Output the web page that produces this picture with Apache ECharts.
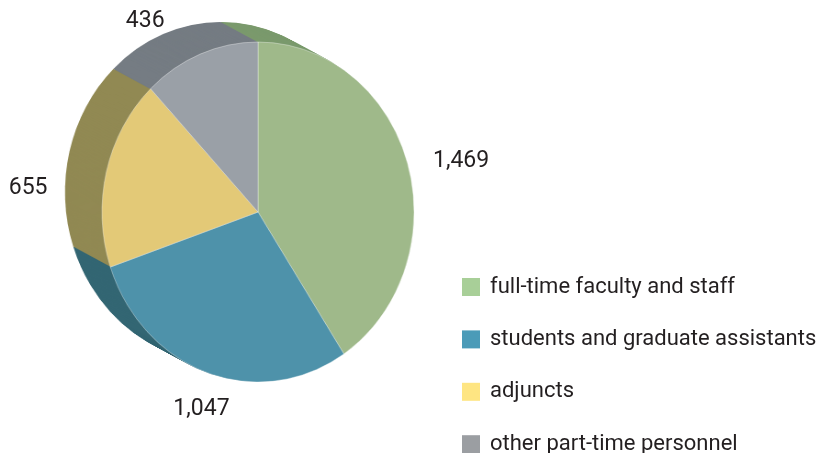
<!DOCTYPE html>
<html><head><meta charset="utf-8">
<script src="https://cdn.jsdelivr.net/npm/echarts@6/dist/echarts.min.js"></script>
<style>
html,body{margin:0;padding:0;background:#fff;overflow:hidden;}
#wrap{position:relative;width:834px;height:453px;overflow:hidden;}
#pie{position:absolute;left:0;top:0;width:834px;height:453px;transform:scaleX(0.918);transform-origin:258px 212px;}
#main{position:absolute;left:0;top:0;width:834px;height:520px;}
</style></head><body>
<div id="wrap"><div id="pie"></div><div id="main"></div></div>
<script>
// ---- data ----
const categories = ['full-time faculty and staff', 'students and graduate assistants', 'adjuncts', 'other part-time personnel'];
const values = [1469, 1047, 655, 436];

// ---- styles ----
const faceColors = ['#9fb98a', '#4e92aa', '#e3c977', '#9aa0a7'];
const sideColors = ['#7b9a6d', '#336673', '#918953', '#757c83'];
const legendColors = ['#a8cf98', '#4b9bb8', '#fee582', '#9b9ea2'];
const labelNudge = [[-12, 4], [38, 17], [-21, 22], [-18, -14]];
const FONT = 'Roboto';
const TEXT = '#231f20';
const FRONT = [258, 212], BACK = [217.7, 192], R = 170, LAYERS = 40;

function pieData(colors) {
  return categories.map((c, k) => ({ name: c, value: values[k], itemStyle: { color: colors[k] } }));
}

const pieChart = echarts.init(document.getElementById('pie'), null, { renderer: 'canvas' });
const layers = [];
for (let i = 0; i < LAYERS; i++) {
  const t = i / LAYERS;
  layers.push({
    type: 'pie', silent: true, animation: false, z: i + 1,
    center: [BACK[0] + (FRONT[0] - BACK[0]) * t, BACK[1] + (FRONT[1] - BACK[1]) * t],
    radius: [0, R], startAngle: 90, clockwise: true,
    label: { show: false }, labelLine: { show: false },
    itemStyle: { borderWidth: 0 },
    data: pieData(sideColors)
  });
}
layers.push({
  type: 'pie', silent: true, animation: false, z: LAYERS + 2,
  center: FRONT, radius: [0, R], startAngle: 90, clockwise: true,
  label: { show: false }, labelLine: { show: false },
  itemStyle: { borderWidth: 0.8, borderColor: 'rgba(255,255,255,0.45)' },
  data: pieData(faceColors)
});
pieChart.setOption({ animation: false, series: layers });

const main = echarts.init(document.getElementById('main'), null, { renderer: 'canvas' });
main.setOption({
  animation: false,
  legend: {
    orient: 'vertical', left: 462, top: 276, padding: 0, icon: 'rect',
    itemWidth: 18, itemHeight: 18, itemGap: 30.4, selectedMode: false,
    textStyle: { fontFamily: FONT, fontSize: 22, lineHeight: 20, color: TEXT, padding: [0, 0, 0, 5] },
    data: categories.map((c, k) => ({ name: c, itemStyle: { color: legendColors[k], opacity: 1 } }))
  },
  series: [{
    type: 'pie', silent: true, center: FRONT, radius: [0, R],
    startAngle: 90, clockwise: true, avoidLabelOverlap: false,
    itemStyle: { color: 'rgba(0,0,0,0)', borderWidth: 0 },
    label: {
      show: true, position: 'outside',
      formatter: p => p.value.toLocaleString('en-US'),
      fontFamily: FONT, fontSize: 23, color: TEXT
    },
    labelLine: { show: false, length: 20, length2: 0 },
    labelLayout: p => ({ dx: labelNudge[p.dataIndex][0], dy: labelNudge[p.dataIndex][1] }),
    data: categories.map((c, k) => ({ name: c, value: values[k] }))
  }]
});
</script>
</body></html>
